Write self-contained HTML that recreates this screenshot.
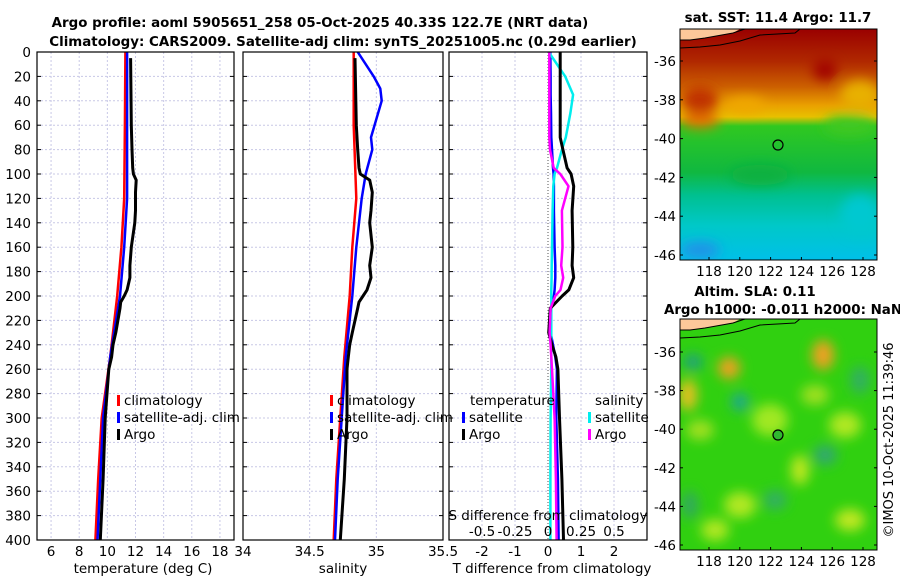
<!DOCTYPE html>
<html><head><meta charset="utf-8"><style>
html,body{margin:0;padding:0;background:#fff;}
svg{display:block;font-family:"DejaVu Sans","Liberation Sans",sans-serif;}
</style></head><body>
<svg id="chart" width="900" height="580" viewBox="0 0 900 580" xmlns="http://www.w3.org/2000/svg">
<defs>
<filter id="blur6" x="-50%" y="-50%" width="200%" height="200%"><feGaussianBlur stdDeviation="6"/></filter>
<linearGradient id="sstgrad" x1="0" y1="0" x2="0" y2="1">
<stop offset="0" stop-color="#9a0000"/>
<stop offset="0.14" stop-color="#b02800"/>
<stop offset="0.25" stop-color="#cc6000"/>
<stop offset="0.33" stop-color="#eaa000"/>
<stop offset="0.38" stop-color="#e8c000"/>
<stop offset="0.42" stop-color="#30c820"/>
<stop offset="0.62" stop-color="#10b840"/>
<stop offset="0.72" stop-color="#00c090"/>
<stop offset="0.85" stop-color="#00c8c8"/>
<stop offset="1" stop-color="#00c0e8"/>
</linearGradient>
<clipPath id="clip1"><rect x="680" y="29" width="197" height="231"/></clipPath>
<clipPath id="clip2"><rect x="680" y="319" width="197" height="231"/></clipPath>
<clipPath id="p1"><rect x="37" y="52" width="197" height="488"/></clipPath>
<clipPath id="p2"><rect x="243" y="52" width="200" height="488"/></clipPath>
<clipPath id="p3"><rect x="449" y="52" width="198" height="488"/></clipPath>
</defs>
<g id="titles">
<text x="320" y="27" font-size="13.4" font-weight="bold" text-anchor="middle">Argo profile: aoml 5905651_258 05-Oct-2025 40.33S 122.7E (NRT data)</text>
<text x="343" y="46" font-size="13.4" font-weight="bold" text-anchor="middle">Climatology: CARS2009. Satellite-adj clim: synTS_20251005.nc (0.29d earlier)</text>
</g>
<g id="panels"></g>
<g id="maps">
<text x="778" y="22" font-size="13.4" font-weight="bold" text-anchor="middle">sat. SST: 11.4 Argo: 11.7</text>
<g clip-path="url(#clip1)">
<rect x="680" y="29" width="197" height="231" fill="url(#sstgrad)"/>
<g filter="url(#blur6)">
<ellipse cx="700" cy="100" rx="18" ry="14" fill="#c03000"/>
<ellipse cx="825" cy="70" rx="12" ry="10" fill="#a00000"/>
<ellipse cx="745" cy="105" rx="20" ry="8" fill="#f0a800"/>
<ellipse cx="860" cy="95" rx="20" ry="15" fill="#e8b000"/>
<ellipse cx="850" cy="125" rx="26" ry="10" fill="#40c820"/>
<ellipse cx="700" cy="120" rx="20" ry="8" fill="#e07000"/>
<ellipse cx="860" cy="215" rx="20" ry="20" fill="#00c8d0"/>
<ellipse cx="700" cy="250" rx="20" ry="8" fill="#2090e8"/>
<ellipse cx="760" cy="175" rx="30" ry="10" fill="#10b040"/>
</g>
<path d="M680 29 L740 29 L733 33 L705 38 L690 40 L680 40 Z" fill="#fcc89a"/>
<path d="M680 40 L690 40 L705 38 L733 33 L745 29 L800 29 L795 33 L760 35 L740 41 L720 45 L700 47 L680 48" fill="none" stroke="#000" stroke-width="1"/>
</g>
<rect x="680" y="29" width="197" height="231" fill="none" stroke="#000" stroke-width="1"/>
<circle cx="778" cy="145" r="5" fill="none" stroke="#000" stroke-width="1.2"/>
<text x="755" y="296" font-size="13.4" font-weight="bold" text-anchor="middle">Altim. SLA: 0.11</text>
<text x="783" y="314" font-size="13.4" font-weight="bold" text-anchor="middle">Argo h1000: -0.011 h2000: NaN</text>
<g clip-path="url(#clip2)">
<rect x="680" y="319" width="197" height="231" fill="#30d010"/>
<g filter="url(#blur6)">
<ellipse cx="729" cy="368" rx="11" ry="11" fill="#f0a020"/>
<ellipse cx="823" cy="355" rx="11" ry="15" fill="#f0a020"/>
<ellipse cx="688" cy="395" rx="9" ry="16" fill="#e8c020"/>
<ellipse cx="693" cy="362" rx="10" ry="8" fill="#20a080"/>
<ellipse cx="740" cy="402" rx="9" ry="9" fill="#20a890"/>
<ellipse cx="825" cy="455" rx="12" ry="10" fill="#30a870"/>
<ellipse cx="845" cy="425" rx="16" ry="13" fill="#b0e820"/>
<ellipse cx="770" cy="420" rx="18" ry="16" fill="#a0e820"/>
<ellipse cx="740" cy="505" rx="16" ry="13" fill="#b0e820"/>
<ellipse cx="800" cy="470" rx="9" ry="15" fill="#c0e820"/>
<ellipse cx="715" cy="530" rx="14" ry="11" fill="#b0e820"/>
<ellipse cx="850" cy="520" rx="15" ry="11" fill="#c0e820"/>
<ellipse cx="700" cy="430" rx="14" ry="10" fill="#a0e020"/>
<ellipse cx="815" cy="395" rx="14" ry="10" fill="#a0e020"/>
<ellipse cx="690" cy="505" rx="8" ry="14" fill="#30a860"/>
<ellipse cx="775" cy="500" rx="12" ry="10" fill="#30b060"/>
<ellipse cx="860" cy="380" rx="10" ry="14" fill="#30b060"/>
</g>
<path d="M680 319 L740 319 L733 323 L705 328 L690 330 L680 330 Z" fill="#fcc89a"/>
<path d="M680 330 L690 330 L705 328 L733 323 L745 319 L800 319 L795 323 L760 325 L740 331 L720 335 L700 337 L680 338" fill="none" stroke="#000" stroke-width="1"/>
</g>
<rect x="680" y="319" width="197" height="231" fill="none" stroke="#000" stroke-width="1"/>
<circle cx="778" cy="435" r="5" fill="#30b830" stroke="#000" stroke-width="1.2"/>
<text transform="translate(893,440) rotate(-90)" font-size="13" text-anchor="middle">©IMOS 10-Oct-2025 11:39:46</text>
</g>
</svg>
<script>
// ---- data ----
const depthTicks = [0,20,40,60,80,100,120,140,160,180,200,220,240,260,280,300,320,340,360,380,400];
const tempTicks = [6,8,10,12,14,16,18];
const salTicks = [34,34.5,35,35.5];
const salTickLabels = ['34','34.5','35','35.5'];
const tdiffTicks = [-2.5,-2,-1,0,1,2];
const tdiffTickLabels = ['-2.5','-2','-1','0','1','2'];
const sdiffTicks = [-0.5,-0.25,0,0.25,0.5];
const sdiffTickLabels = ['-0.5','-0.25','0','0.25','0.5'];
const latTicks = [-36,-38,-40,-42,-44,-46];
const lonTicks = [118,120,122,124,126,128];

const climDepth = [0,60,120,160,200,250,300,350,400];
const climTemp  = [11.28,11.25,11.2,11.0,10.7,10.2,9.6,9.35,9.15];
const climSal   = [34.83,34.83,34.85,34.82,34.80,34.76,34.73,34.70,34.68];
const satDepth  = [0,20,30,40,70,80,100,120,160,200,250,300,350,400];
const satTemp   = [11.4,11.4,11.4,11.4,11.4,11.4,11.4,11.4,11.2,10.9,10.2,9.7,9.5,9.3];
const satSal    = [34.86,34.98,35.03,35.04,34.96,34.97,34.92,34.89,34.85,34.82,34.77,34.74,34.71,34.69];
const argoDepth = [5,60,80,95,100,105,115,130,140,160,175,185,195,200,205,210,230,240,250,260,300,350,400];
const argoTemp  = [11.65,11.7,11.75,11.8,11.85,12.05,12.0,12.0,11.95,11.7,11.6,11.6,11.4,11.2,10.95,10.9,10.6,10.4,10.3,10.1,9.85,9.7,9.5];
const argoSal   = [34.84,34.85,34.86,34.87,34.88,34.95,34.97,34.96,34.95,34.97,34.95,34.96,34.93,34.90,34.87,34.86,34.82,34.80,34.79,34.78,34.78,34.76,34.73];

const dDepth    = [0,20,35,50,70,80,95,100,110,130,160,175,185,195,200,210,230,240,250,260,300,350,400];
const tSatDiff  = [0.07,0.08,0.08,0.09,0.1,0.12,0.15,0.17,0.18,0.18,0.2,0.22,0.22,0.2,0.18,0.1,0.08,0.15,0.22,0.27,0.25,0.3,0.32];
const tArgoDiff = [0.37,0.37,0.37,0.37,0.37,0.45,0.58,0.7,0.78,0.73,0.75,0.73,0.78,0.63,0.43,0.07,0.02,0.12,0.24,0.3,0.35,0.42,0.47];
const sSatDiff  = [0.005,0.13,0.19,0.17,0.135,0.105,0.068,0.05,0.04,0.035,0.03,0.028,0.027,0.025,0.025,0.025,0.025,0.025,0.025,0.025,0.02,0.018,0.018];
const sArgoDiff = [0.01,0.01,0.01,0.01,0.01,0.015,0.043,0.093,0.155,0.105,0.11,0.1,0.115,0.095,0.055,0.02,0.012,0.02,0.025,0.03,0.05,0.06,0.065];

// ---- axes ----
const Y0 = 52, Y1 = 540;
const FS = 13.5;
const yD = d => Y0 + (d/400)*(Y1-Y0);
const panels = [
 {name:'temperature', x0:37, x1:234, min:5, max:19},
 {name:'salinity', x0:243, x1:443, min:34, max:35.5},
 {name:'difference', x0:449, x1:647, min:-3, max:3}
];
function sx(p, v){ return p.x0 + (v-p.min)/(p.max-p.min)*(p.x1-p.x0); }
const NS = 'http://www.w3.org/2000/svg';
const root = document.getElementById('panels');
function mk(tag, attrs, parent){
  const e = document.createElementNS(NS, tag);
  for (const k in attrs) e.setAttribute(k, attrs[k]);
  (parent||root).appendChild(e);
  return e;
}
function txt(s, x, y, size, anchor, name, parent){
  const t = mk('text', {x:x, y:y, 'font-size':size, 'text-anchor':anchor||'middle'}, parent);
  
  
  t.textContent = s;
  return t;
}
function line(pts, color, w, name, clip){
  const p = mk('polyline', {points: pts.map(q=>q[0].toFixed(1)+','+q[1].toFixed(1)).join(' '), fill:'none', stroke:color, 'stroke-width':w, 'stroke-linejoin':'round', 'clip-path':'url(#'+clip+')'});
  
  
  return p;
}
const gridH = (p) => { depthTicks.forEach(d => { mk('line',{x1:p.x0,x2:p.x1,y1:yD(d),y2:yD(d),stroke:'#c8c8e6','stroke-width':1,'stroke-dasharray':'2,2'}); }); };
const gridV = (p, vals) => { vals.forEach(v => { const x=sx(p,v); mk('line',{x1:x,x2:x,y1:Y0,y2:Y1,stroke:'#c8c8e6','stroke-width':1,'stroke-dasharray':'2,2'}); }); };

panels.forEach((p, i) => {
  gridH(p);
  if (i===0) gridV(p, tempTicks);
  if (i===1) gridV(p, [34.5,35]);
  if (i===2) gridV(p, [-2,-1,1,2]);
});
depthTicks.forEach(d => txt(String(d), 31, yD(d)+5, FS, 'end', 'y-tick-'+d));
tempTicks.forEach(v => txt(String(v), sx(panels[0],v), 556, FS, 'middle', 'temp-tick-'+v));
salTicks.forEach((v,i) => txt(salTickLabels[i], sx(panels[1],v), 556, FS, 'middle', 'sal-tick-'+salTickLabels[i]));
tdiffTicks.forEach((v,i) => { if (i>0) txt(tdiffTickLabels[i], sx(panels[2],v), 556, FS, 'middle', 'tdiff-tick-'+tdiffTickLabels[i]); });
txt('temperature (deg C)', 143, 573, FS, 'middle', 'temp-axis-title');
txt('salinity', 343, 573, FS, 'middle', 'sal-axis-title');
txt('T difference from climatology', 552, 573, FS, 'middle', 'tdiff-axis-title');

const zx = sx(panels[2],0);
mk('line',{x1:zx,x2:zx,y1:Y0,y2:Y1,stroke:'#555','stroke-width':1,'stroke-dasharray':'1,2'});

const P1=panels[0], P2=panels[1], P3=panels[2];
line(climDepth.map((d,i)=>[sx(P1,climTemp[i]),yD(d)]), '#ff0000', 2.5, 'temp-climatology-line','p1');
line(satDepth.map((d,i)=>[sx(P1,satTemp[i]),yD(d)]), '#0000ff', 2.5, 'temp-satellite-line','p1');
line(argoDepth.map((d,i)=>[sx(P1,argoTemp[i]),yD(d)]), '#000000', 3, 'temp-argo-line','p1');
line(climDepth.map((d,i)=>[sx(P2,climSal[i]),yD(d)]), '#ff0000', 2.5, 'sal-climatology-line','p2');
line(satDepth.map((d,i)=>[sx(P2,satSal[i]),yD(d)]), '#0000ff', 2.5, 'sal-satellite-line','p2');
line(argoDepth.map((d,i)=>[sx(P2,argoSal[i]),yD(d)]), '#000000', 3, 'sal-argo-line','p2');
line(dDepth.map((d,i)=>[sx(P3,tSatDiff[i]),yD(d)]), '#0000ff', 2.5, 'tdiff-satellite-line','p3');
line(dDepth.map((d,i)=>[sx(P3,sSatDiff[i]*4),yD(d)]), '#00eeee', 2.5, 'sdiff-satellite-line','p3');
line(dDepth.map((d,i)=>[sx(P3,tArgoDiff[i]),yD(d)]), '#000000', 3, 'tdiff-argo-line','p3');
line(dDepth.map((d,i)=>[sx(P3,sArgoDiff[i]*4),yD(d)]), '#ff00ff', 2.5, 'sdiff-argo-line','p3');

txt('S difference from climatology', 548, 520, FS, 'middle', 'sdiff-axis-title');
sdiffTicks.forEach((v,i) => txt(sdiffTickLabels[i], sx(P3, v*4), 536, FS, 'middle', 'sdiff-tick-'+sdiffTickLabels[i]));

function legItem(x, y, color, label, name){
  const r = mk('rect',{x:x, y:y-10, width:3, height:11, fill:color});
  
  
  txt(label, x+7, y, FS, 'start', name+'-label');
}
legItem(117, 405, '#ff0000', 'climatology', 'temp-legend-climatology');
legItem(117, 422, '#0000ff', 'satellite-adj. clim', 'temp-legend-satellite');
legItem(117, 439, '#000000', 'Argo', 'temp-legend-argo');
legItem(330, 405, '#ff0000', 'climatology', 'sal-legend-climatology');
legItem(330, 422, '#0000ff', 'satellite-adj. clim', 'sal-legend-satellite');
legItem(330, 439, '#000000', 'Argo', 'sal-legend-argo');
txt('temperature', 470, 405, FS, 'start', 'diff-legend-temperature-header');
legItem(462, 422, '#0000ff', 'satellite', 'diff-legend-t-satellite');
legItem(462, 439, '#000000', 'Argo', 'diff-legend-t-argo');
txt('salinity', 595, 405, FS, 'start', 'diff-legend-salinity-header');
legItem(588, 422, '#00eeee', 'satellite', 'diff-legend-s-satellite');
legItem(588, 439, '#ff00ff', 'Argo', 'diff-legend-s-argo');

panels.forEach(p => {
  const f = mk('rect',{x:p.x0, y:Y0, width:p.x1-p.x0, height:Y1-Y0, fill:'none', stroke:'#000', 'stroke-width':1.2});
  
  
  depthTicks.forEach(d => {
    mk('line',{x1:p.x0,x2:p.x0+4,y1:yD(d),y2:yD(d),stroke:'#000'});
    mk('line',{x1:p.x1-4,x2:p.x1,y1:yD(d),y2:yD(d),stroke:'#000'});
  });
});

const mapsG = document.getElementById('maps');
const lonX = lon => 709 + (lon-118)*15.4;
[[29,260,61,19.4,276],[319,550,352,19.3,566]].forEach((m,mi) => {
  latTicks.forEach(lat => {
    const y = m[2] + (-36-lat)*m[3];
    mk('line',{x1:680,x2:683,y1:y,y2:y,stroke:'#000'}, mapsG);
    mk('line',{x1:874,x2:877,y1:y,y2:y,stroke:'#000'}, mapsG);
    txt(String(lat), 676, y+5, FS, 'end', 'map'+(mi+1)+'-lat-'+(-lat), mapsG);
  });
  lonTicks.forEach(lon => {
    const x = lonX(lon);
    mk('line',{x1:x,x2:x,y1:m[1],y2:m[1]-3,stroke:'#000'}, mapsG);
    txt(String(lon), x, m[4], FS, 'middle', 'map'+(mi+1)+'-lon-'+lon, mapsG);
  });
});
</script>
</body></html>
